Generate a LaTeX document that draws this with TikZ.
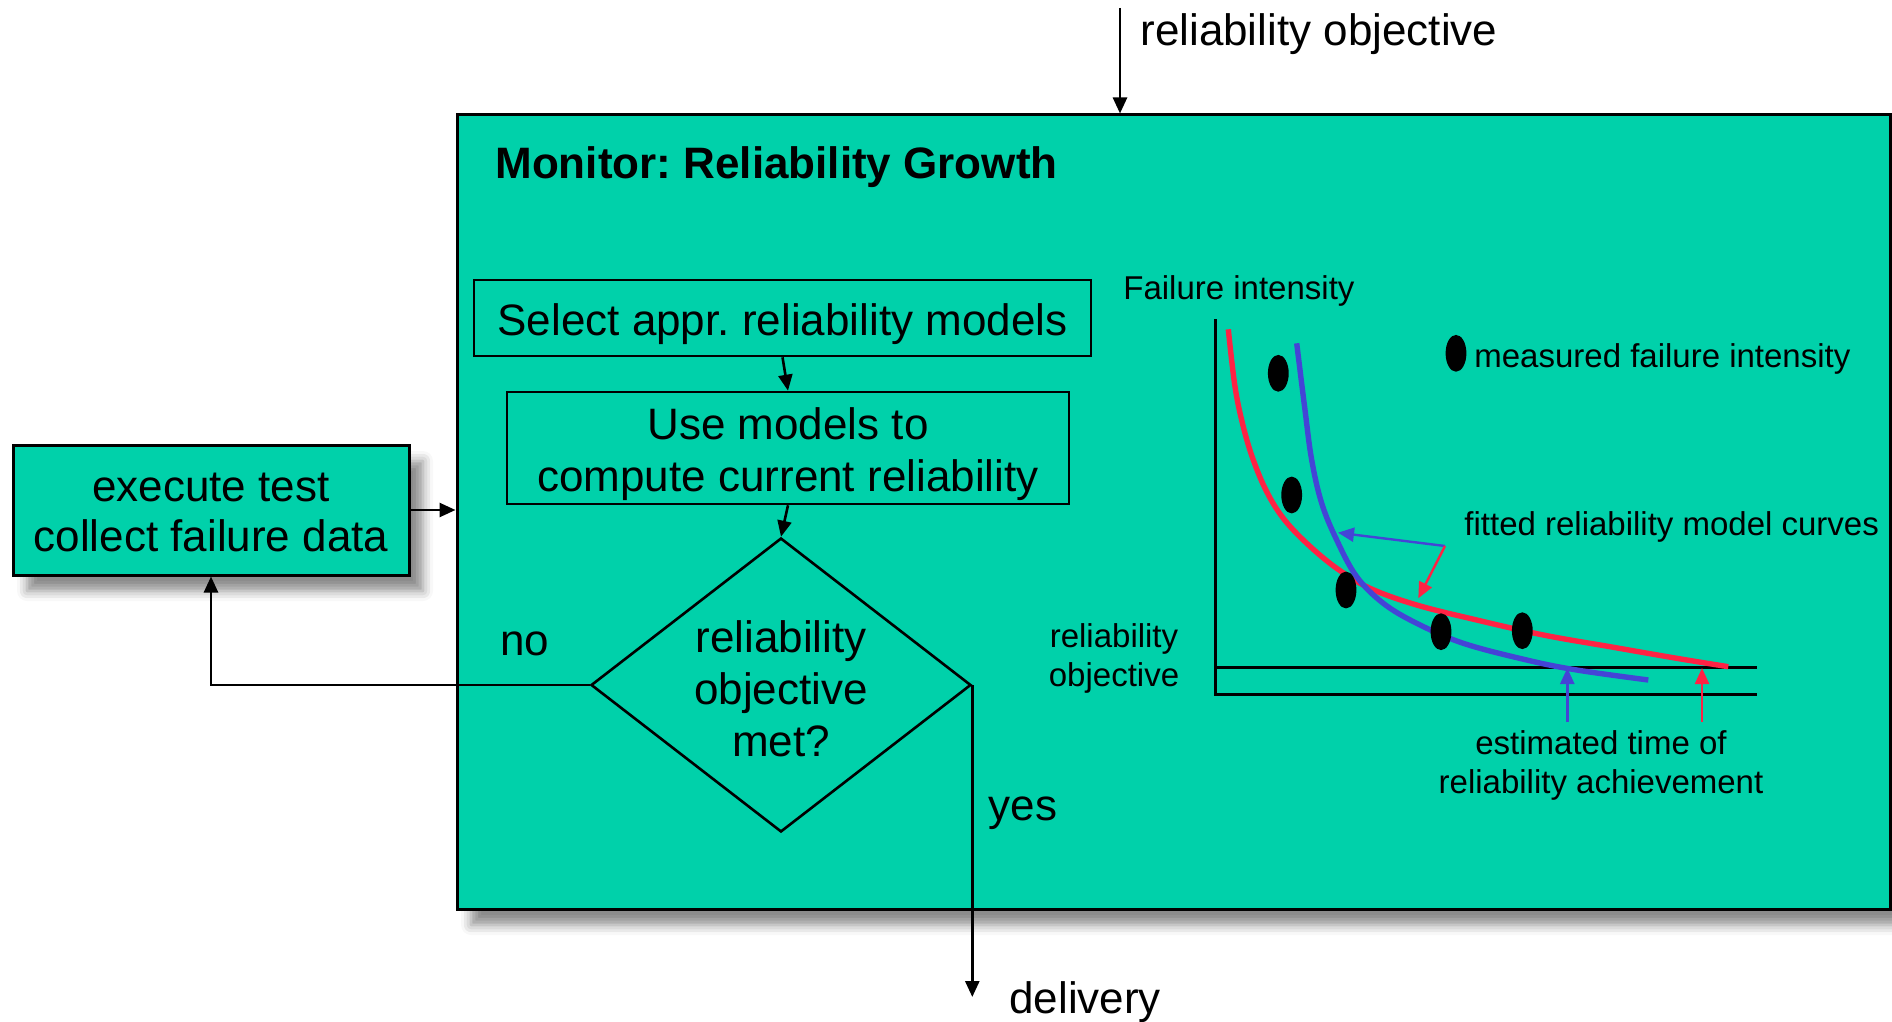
\documentclass[tikz,border=0pt]{standalone}
\usepackage{fontspec}
\setmainfont{Liberation Sans}
\usetikzlibrary{arrows.meta,shapes.geometric,shadows.blur}
\definecolor{mint}{RGB}{0,209,170}
\definecolor{cred}{RGB}{255,34,68}
\definecolor{cblue}{RGB}{68,68,214}
\newcommand{\lowtext}[2]{\raisebox{-#1}[\height][\depth]{\begin{tabular}{@{}c@{}}#2\end{tabular}}}
\begin{document}
\frenchspacing
\begin{tikzpicture}[x=0.5pt,y=-0.5pt,
  big/.style={font=\fontsize{22pt}{26pt}\selectfont},
  small/.style={font=\fontsize{16.5pt}{19.5pt}\selectfont},
  box/.style={draw=black, line width=1.5pt, fill=mint, inner sep=0pt, align=center, big},
  flowbox/.style={draw=black, line width=1.3pt, inner sep=0pt, align=center, big},
  conn/.style={line width=1.3pt, -{Triangle[length=8pt,width=7pt]}},
  axisline/.style={line width=1.5pt},
  curve/.style={line width=2.7pt},
  ptr/.style={line width=1.2pt, -{Triangle[length=8pt,width=7pt]}},
  dot/.style={fill=black},
  sh/.style={blur shadow={shadow xshift=7pt, shadow yshift=-8pt, shadow blur radius=5pt, shadow opacity=45}}
]
\useasboundingbox (0,0) rectangle (1892,1022);
% main monitor box
\node[box, sh, minimum width=716.5pt, minimum height=397pt] (mon) at (1173.5,512) {};
\node[font=\fontsize{22pt}{26pt}\selectfont\bfseries, anchor=west, inner sep=0pt] (title) at (495,167) {Monitor: Reliability Growth};
% left box
\node[box, sh, minimum width=198pt, minimum height=65pt, font=\fontsize{22pt}{25pt}\selectfont] (exec) at (211,510) {\lowtext{3pt}{execute test\\collect failure data}};
% flow
\node[flowbox, minimum width=308.5pt, minimum height=38pt] (sel) at (782.5,318) {\lowtext{3.4pt}{Select appr. reliability models}};
\node[flowbox, minimum width=281pt, minimum height=56pt] (use) at (788,448) {\lowtext{3.4pt}{Use models to\\compute current reliability}};
\node[flowbox, diamond, aspect=1.3, minimum width=190pt, minimum height=147pt] (dia) at (781,685) {\lowtext{4.3pt}{reliability\\objective\\met?}};
\draw[conn] (sel.south) -- (use.north);
\draw[conn] (use.south) -- (dia.north);
\draw[conn] (exec.east) -- (exec.east -| mon.west);
\draw[conn] (dia.west) -| (exec.south);
\coordinate (deliv) at (972,997);
\draw[conn] (dia.east) -- (dia.east |- deliv);
\coordinate (objin) at (1120,8);
\draw[conn] (objin) -- (objin |- mon.north);
% labels
\node[big, anchor=west, inner sep=0pt] (objlbl) at (1140,34) {reliability objective};
\node[big, inner sep=0pt] (no) at (525,644) {no};
\node[big, inner sep=0pt] (yes) at (1023,813) {yes};
\node[big, anchor=west, inner sep=0pt] (del) at (1009,1002) {delivery};
% chart
\node[small, anchor=west, inner sep=0pt] (fi) at (1123,291) {Failure intensity};
\draw[axisline] (1215.7,319) -- (1215.7,694) -- (1757,694);
\draw[axisline] (1215.7,667) -- (1757,667);
\draw[curve, cred] plot[smooth, tension=0.6] coordinates {(1228.3,329.3) (1235,386.7) (1243.3,426.7) (1253.3,460) (1266.7,491.7) (1283.3,518.3) (1306.7,543.3) (1336.7,568.3) (1370,588.3) (1416.7,605) (1476.7,620) (1543.3,635) (1610,646.7) (1676.7,658.3) (1728.3,666.7)};
\draw[curve, cblue] plot[smooth, tension=0.6] coordinates {(1296.7,343.3) (1305,410) (1311.7,460) (1321.7,503.3) (1336.7,540) (1356.7,576.7) (1383.3,603.3) (1416.7,623.3) (1463.3,643.3) (1526.7,660) (1576.7,670) (1648.3,680)};
\foreach \p in {(1278.3,373.3),(1291.7,495),(1346,590),(1441,631.7),(1522.3,630.7)}
  \fill[dot] \p ellipse [x radius=5.2pt, y radius=9.2pt];
\fill[dot] (1456,353.3) ellipse [x radius=5.2pt, y radius=9.2pt];
\node[small, anchor=west, inner sep=0pt] (meas) at (1474,359) {measured failure intensity};
\node[small, anchor=west, inner sep=0pt] (fit) at (1464,527) {fitted reliability model curves};
\coordinate (jn) at (1445,546);
\coordinate (bluetip) at (1338,532.7);
\coordinate (redtip) at (1418.3,598.3);
\draw[ptr, cblue] (jn) -- (bluetip);
\draw[ptr, cred] (jn) -- (redtip);
\node[small, align=center, inner sep=0pt] (robj) at (1114,658) {reliability\\objective};
\draw[ptr, cblue] (1567.3,722) -- (1567.3,668);
\draw[ptr, cred] (1702,722) -- (1702,668);
\node[small, align=center, inner sep=0pt] (est) at (1601,765) {estimated time of\\reliability achievement};
\end{tikzpicture}
\end{document}
